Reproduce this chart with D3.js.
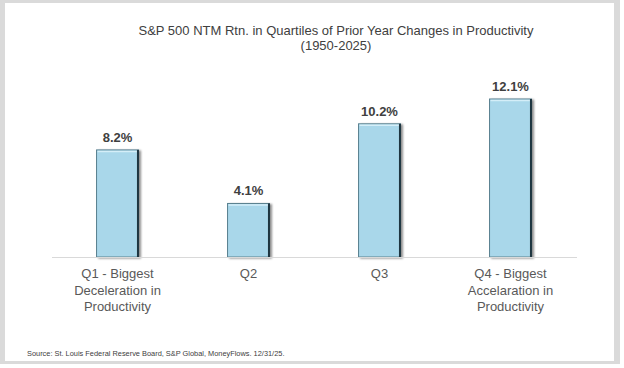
<!DOCTYPE html>
<html><head><meta charset="utf-8">
<script src="https://cdn.jsdelivr.net/npm/d3@7"></script>
<style>body{margin:0;background:#fff}svg{display:block;font-family:"Liberation Sans",Arial,sans-serif}</style>
</head><body>
<script>
const categories = ["Q1 - Biggest|Deceleration in|Productivity", "Q2", "Q3", "Q4 - Biggest|Accelaration in|Productivity"];
const values = [8.2, 4.1, 10.2, 12.1];
const valueLabels = ["8.2%", "4.1%", "10.2%", "12.1%"];
const titleLines = ["S&P 500 NTM Rtn. in Quartiles of Prior Year Changes in Productivity", "(1950-2025)"];
const sourceText = "Source: St. Louis Federal Reserve Board, S&P Global, MoneyFlows. 12/31/25.";

const W = 624, H = 368;
const svg = d3.select("body").append("svg").attr("width", W).attr("height", H);

// frame
svg.append("rect").attr("x",0).attr("y",0).attr("width",620).attr("height",364).attr("fill","#dadada");
svg.append("rect").attr("x",5).attr("y",3).attr("width",609).attr("height",358).attr("fill","#ffffff");

const x = d3.scaleBand().domain(categories).range([52, 576]).paddingInner(0.68).paddingOuter(0.34);
const y = d3.scaleLinear().domain([0, 12.1]).range([257, 99]);

// title
svg.append("g").selectAll("text").data(titleLines).join("text")
  .attr("x", 336).attr("y", (d,i)=>35 + i*14.5)
  .attr("text-anchor","middle").attr("font-size",13).attr("fill","#404040").text(d=>d);

// shadows
const defs = svg.append("defs");
const f = defs.append("filter").attr("id","sh").attr("x","-20%").attr("y","-20%").attr("width","150%").attr("height","150%");
f.append("feGaussianBlur").attr("in","SourceAlpha").attr("stdDeviation",1.2);
f.append("feOffset").attr("dx",2).attr("dy",1).attr("result","b");
f.append("feComponentTransfer").append("feFuncA").attr("type","linear").attr("slope",0.45);
const m = f.append("feMerge"); m.append("feMergeNode"); m.append("feMergeNode").attr("in","SourceGraphic");

const bars = svg.append("g");
bars.selectAll("rect.bar").data(values).join("rect").attr("class","bar")
  .attr("x",(d,i)=>x(categories[i])).attr("y",d=>y(d))
  .attr("width",x.bandwidth()).attr("height",d=>y(0)-y(d))
  .attr("fill","#a9d7ea").attr("stroke","#58808f").attr("stroke-width",1)
  .attr("filter","url(#sh)");
// top highlight
bars.selectAll("line.hi").data(values).join("line").attr("class","hi")
  .attr("x1",(d,i)=>x(categories[i])+1).attr("x2",(d,i)=>x(categories[i])+x.bandwidth()-1)
  .attr("y1",d=>y(d)+1.5).attr("y2",d=>y(d)+1.5)
  .attr("stroke","#d4eef8").attr("stroke-width",1.5);
// right dark edge
bars.selectAll("line.edge").data(values).join("line").attr("class","edge")
  .attr("x1",(d,i)=>x(categories[i])+x.bandwidth()-0.5).attr("x2",(d,i)=>x(categories[i])+x.bandwidth()-0.5)
  .attr("y1",d=>y(d)).attr("y2",y(0))
  .attr("stroke","#1e3540").attr("stroke-width",2);

// baseline
svg.append("line").attr("x1",52).attr("x2",577).attr("y1",257.5).attr("y2",257.5)
  .attr("stroke","#d9d9d9").attr("stroke-width",1.2);

// value labels
svg.append("g").selectAll("text").data(values).join("text")
  .attr("x",(d,i)=>x(categories[i])+x.bandwidth()/2).attr("y",d=>y(d)-8)
  .attr("text-anchor","middle").attr("font-size",13).attr("font-weight","bold").attr("fill","#404040")
  .text((d,i)=>valueLabels[i]);

// category labels
const cg = svg.append("g");
categories.forEach((c,i)=>{
  const t = cg.append("text").attr("x", x(c)+x.bandwidth()/2).attr("y", 278)
    .attr("text-anchor","middle").attr("font-size",13).attr("fill","#595959");
  c.split("|").forEach((line,j)=>{
    t.append("tspan").attr("x", x(c)+x.bandwidth()/2).attr("y", 278 + j*16.5).text(line);
  });
});

// source
svg.append("text").attr("x",27).attr("y",356).attr("font-size",7.4).attr("fill","#404040").text(sourceText);
</script>
</body></html>
